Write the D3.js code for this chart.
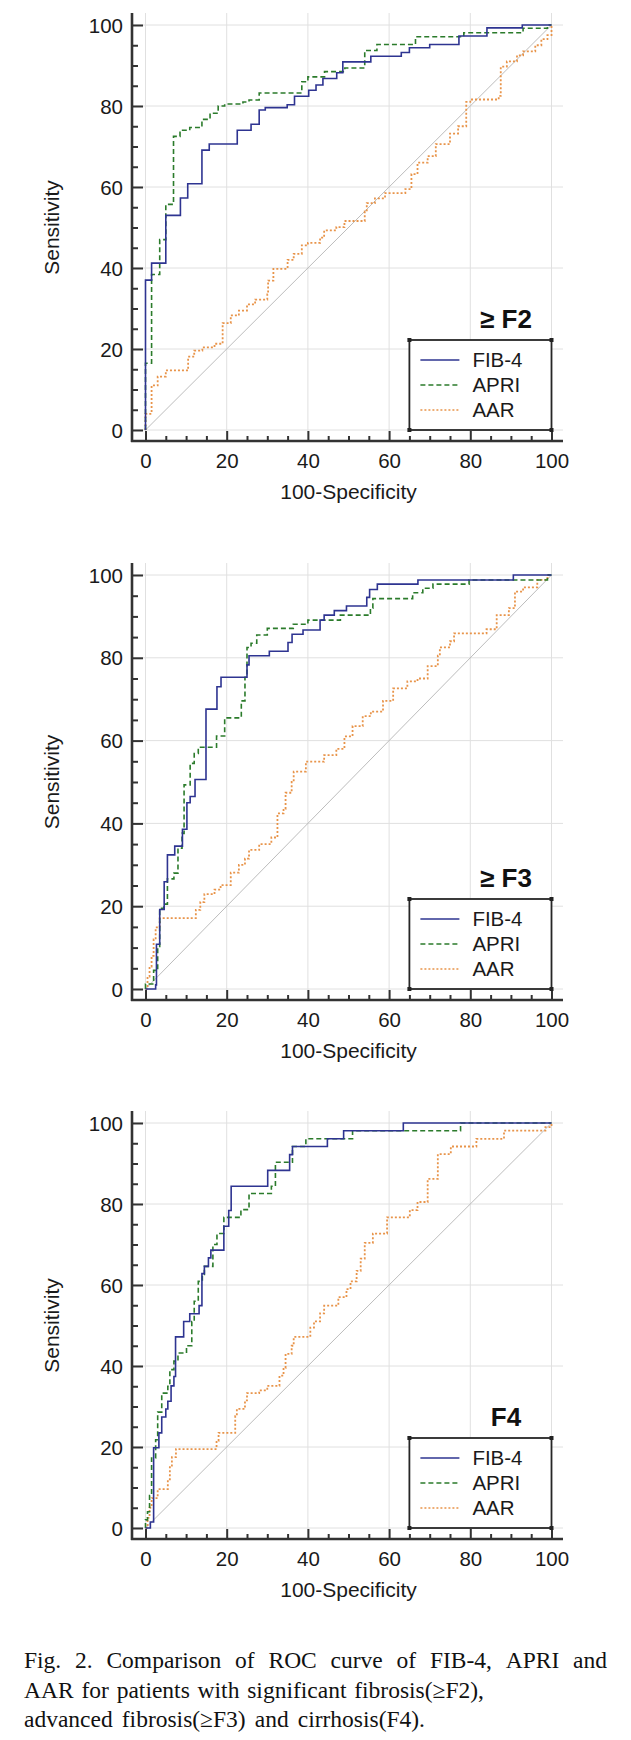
<!DOCTYPE html>
<html><head><meta charset="utf-8">
<script src="https://cdn.jsdelivr.net/npm/d3@7"></script>
<style>body{margin:0;background:#fff;} svg{display:block;}</style>
</head><body>
<svg id="c" width="631" height="1740"></svg>
<script>
// ---------- data ----------
const xTickValues = [0, 20, 40, 60, 80, 100];
const yTickValues = [0, 20, 40, 60, 80, 100];
const minorTickValues = [5, 10, 15, 25, 30, 35, 45, 50, 55, 65, 70, 75, 85, 90, 95];
const seriesNames = ["FIB-4", "APRI", "AAR"];
const panelLabels = ["≥ F2", "≥ F3", "F4"];
const xAxisTitle = "100-Specificity";
const yAxisTitle = "Sensitivity";
const referenceLine = [[0, 0], [100, 100]];
const legendExtent = [65, 100];

// Panel 1 (>= F2)
const f2Fib4 = [[0,0],[0,37],[1.5,41.2],[5,53],[8.6,57.3],[10.4,60.8],[13.9,69.1],[15.7,70.6],[22.6,74],[26,75.5],[28,79],[29.5,79.6],[34.9,80.3],[36.7,82.4],[40.2,83.9],[42,85.2],[43.7,86.8],[47.1,88.2],[48.6,90.9],[55.5,92.3],[63,93.2],[65,94.4],[70,95.2],[77.2,97.3],[84.1,99.3],[92.8,100],[100,100]];
const f2Apri = [[0,0],[0,16.5],[1.5,38.4],[3.5,47],[5,55.7],[6.9,72.5],[8.5,74],[10.9,74.7],[13.9,76.7],[15.9,78.2],[17.9,80],[19.5,80.5],[24,81],[25.5,81.5],[28,83.2],[38.5,86],[40,87.2],[44.1,88.5],[49.1,89.4],[54,93.7],[57,95.2],[66.5,97.1],[78.4,98.1],[93,99.2],[99,100],[100,100]];
const f2Aar = [[0,0],[0,4],[1.5,11],[3,13.2],[5,14.7],[10.5,18.1],[12,19.6],[14,20.4],[17,21.3],[19,26.4],[21,28.3],[23,29.5],[25,31],[27,32.2],[30,33.5],[30.2,36.9],[31.5,39.8],[35,42],[36.5,43.5],[38.5,45.6],[40,46.2],[43,47.5],[44,49.3],[47,50.1],[49,51.6],[54,54],[54.5,56],[56.5,57.2],[59,58.5],[64,59.5],[65.5,63.2],[67,66],[69.5,67.6],[71.5,70.6],[75,73.2],[77,75],[79,81],[80,81.6],[87,82.5],[87.5,89.7],[89,91],[91.5,92.5],[93,93.5],[96,95],[97.5,96.5],[99,97.5],[100,100]];

// Panel 2 (>= F3)
const f3Fib4 = [[0,0],[2,0],[2.5,1],[2.7,10.8],[3.5,19.2],[4.6,25.9],[5.4,32.4],[7.2,34.5],[9.1,38.6],[10.2,45],[11,46.5],[12.2,50.6],[14.9,67.6],[17.6,73],[18.6,75.3],[25,78.3],[25.5,80.5],[30.5,81.6],[35.1,83.7],[36.1,85.7],[38.8,86.7],[43,89.1],[44,90.3],[46.5,91.4],[49.5,92.5],[54.5,94.6],[55.2,96.5],[57.1,97.8],[67.1,98.8],[90.6,100],[100,100]];
const f3Apri = [[0,0],[0,1.2],[2,4.5],[3,10],[3.5,19.5],[4.5,20.5],[5.4,26.6],[7,28],[8,34],[9,37.6],[9.5,49.3],[11,54.5],[12,56.9],[13,58.4],[17.5,61.1],[19.5,65.5],[23.6,69.6],[24.5,75.3],[25,82.5],[26,83.5],[27.4,85.5],[30,87.1],[36.4,88.1],[40,89.1],[48,90.3],[55.4,92],[56,94.3],[65.8,95.7],[68.3,96.8],[70.8,97.8],[79.7,98.8],[99,100],[100,100]];
const f3Aar = [[0,0],[0.5,3],[1,5.4],[1.5,8],[2,12],[2.5,14.9],[3.5,17.1],[12.4,19.1],[13.5,21],[14.5,22.9],[17,24],[18.5,25.1],[21,28.1],[23,30],[24.5,31.5],[25.5,33.6],[28,35],[31,36.6],[32.5,42.4],[34,43.5],[34.5,47.4],[36,50],[36.5,52.5],[39.5,54.9],[44,56.5],[47,58],[49,61],[51,63.5],[53.5,65.9],[55.5,67],[58.5,69.6],[61,72.6],[64.5,74.3],[67,75],[69.5,78],[72,80.5],[72.5,82.5],[75,84],[76,85.9],[84,86.9],[86.5,90.3],[89.5,92],[91,96],[93,97],[96.5,98.8],[99,100],[100,100]];

// Panel 3 (F4)
const f4Fib4 = [[0,0],[1.2,0],[1.2,1.5],[2,19.8],[3.3,23.5],[4,27.4],[5,29.4],[5.5,31.3],[6.3,35.1],[7,37.4],[7.4,47.2],[9.4,51],[10.9,52.9],[13.2,54.9],[13.9,62.8],[14.5,64.6],[15.5,66.7],[16.1,68.6],[19.3,74.5],[20.5,78.4],[21.1,84.4],[30.1,88.3],[35.5,92.2],[36.2,94.2],[44.8,96.1],[48.8,98.1],[63.5,100],[100,100]];
const f4Apri = [[0,0],[0,2],[0.5,4],[1,8],[1.5,17.3],[2.5,21.8],[3,28.6],[4,33.3],[5.5,35],[6,39.1],[7,41.2],[8,43.2],[10.1,45],[11.4,51],[12,56],[13,60.9],[14,62.6],[14.5,64.6],[16.6,70],[17.6,72.7],[19.3,76.7],[23.5,78.6],[25.5,82.6],[31,84.4],[32,90.3],[36.2,94.2],[39.5,96.1],[51,98.1],[77.6,100],[100,100]];
const f4Aar = [[0,0],[0.5,2.5],[1,5],[1.5,7.4],[3,9.6],[5.5,12],[6,15.4],[6.5,17.5],[7.5,19.5],[17.5,21.5],[18,23.5],[22.1,27.6],[22.5,29.4],[24.5,31.5],[25,33.3],[28,34],[30,35.1],[33,37.6],[34,39.5],[34.5,43],[36,45],[36.5,47.2],[40.6,49.5],[41.5,51],[43,53],[44,54.9],[47.5,57],[49.5,59],[50.5,60.9],[52,63.5],[53,66.5],[54,70.4],[56,72.7],[59.5,76.7],[65.1,78.5],[67,80.5],[69.5,86.2],[72,92.3],[75.2,94.2],[81.5,96.1],[88.3,98.1],[98.5,99],[100,100]];

const captionLines = [
  "Fig. 2. Comparison of ROC curve of FIB-4, APRI and",
  "AAR for patients with significant fibrosis(≥F2),",
  "advanced fibrosis(≥F3) and cirrhosis(F4)."
];

// ---------- layout & style ----------
const svg = d3.select("#c");
const panelData = [[f2Fib4, f2Apri, f2Aar], [f3Fib4, f3Apri, f3Aar], [f4Fib4, f4Apri, f4Aar]];
const panelBox = [{top: 25, bottom: 430}, {top: 575, bottom: 989}, {top: 1123, bottom: 1528}];
const colors = ["#2e3491", "#2b7b2b", "#e8944a"];
const dashes = [null, "5,3", "2,2"];
const sans = "'Liberation Sans', Arial, sans-serif";
const x = d3.scaleLinear().domain([0, 100]).range([145.5, 551.5]);
const axisXpos = 132, rightX = 563;

panelBox.forEach((P, i) => {
  const y = d3.scaleLinear().domain([0, 100]).range([P.bottom, P.top]);
  const g = svg.append("g");
  const axisY = P.bottom + 11, topY = P.top - 12;

  // grid
  g.append("g").selectAll("line").data(xTickValues).join("line")
    .attr("x1", d => x(d)).attr("x2", d => x(d)).attr("y1", axisY).attr("y2", topY)
    .attr("stroke", "#e0e0e0").attr("stroke-width", 1);
  g.append("g").selectAll("line").data(yTickValues).join("line")
    .attr("x1", axisXpos).attr("x2", rightX).attr("y1", d => y(d)).attr("y2", d => y(d))
    .attr("stroke", "#e0e0e0").attr("stroke-width", 1);

  // reference diagonal
  g.append("path").datum(referenceLine)
    .attr("d", d3.line().x(d => x(d[0])).y(d => y(d[1])))
    .attr("fill", "none").attr("stroke", "#b4b4b4").attr("stroke-width", 0.9);

  // ROC curves (draw AAR, APRI, FIB-4)
  const line = d3.line().x(d => x(d[0])).y(d => y(d[1])).curve(d3.curveStepAfter);
  [2, 1, 0].forEach(k => {
    g.append("path").datum(panelData[i][k])
      .attr("d", line).attr("fill", "none")
      .attr("stroke", colors[k]).attr("stroke-width", k === 2 ? 1.8 : 1.6)
      .attr("stroke-dasharray", dashes[k]);
  });

  // axes
  const yAx = g.append("g").attr("transform", `translate(${axisXpos},0)`)
    .call(d3.axisLeft(y).tickValues(yTickValues).tickSizeInner(-11).tickSizeOuter(0).tickPadding(9));
  const yMin = g.append("g").attr("transform", `translate(${axisXpos},0)`)
    .call(d3.axisLeft(y).tickValues(minorTickValues).tickSizeInner(-6).tickSizeOuter(0).tickFormat(""));
  const xAx = g.append("g").attr("transform", `translate(0,${axisY})`)
    .call(d3.axisBottom(x).tickValues(xTickValues).tickSizeInner(-10).tickSizeOuter(0).tickPadding(12));
  const xMin = g.append("g").attr("transform", `translate(0,${axisY})`)
    .call(d3.axisBottom(x).tickValues(minorTickValues).tickSizeInner(-5).tickSizeOuter(0).tickFormat(""));
  [yAx, yMin, xAx, xMin].forEach(a => {
    a.select(".domain").remove();
    a.selectAll(".tick line").attr("stroke", "#333").attr("stroke-width", 2);
    a.selectAll("text").attr("font-family", sans).attr("font-size", 20.5).attr("fill", "#1a1a1a");
  });
  yAx.selectAll("text").attr("dy", "0.35em");
  // axis lines
  g.append("line").attr("x1", axisXpos).attr("x2", axisXpos).attr("y1", topY).attr("y2", axisY + 1)
    .attr("stroke", "#333").attr("stroke-width", 2.6);
  g.append("line").attr("x1", axisXpos - 1).attr("x2", rightX).attr("y1", axisY).attr("y2", axisY)
    .attr("stroke", "#333").attr("stroke-width", 2.6);

  // axis titles
  g.append("text").attr("x", (x(0) + x(100)) / 2).attr("y", P.bottom + 69)
    .attr("text-anchor", "middle").attr("font-family", sans).attr("font-size", 21)
    .attr("fill", "#1a1a1a").text(xAxisTitle);
  g.append("text").attr("transform", `translate(59,${(P.top + P.bottom) / 2}) rotate(-90)`)
    .attr("text-anchor", "middle").attr("font-family", sans).attr("font-size", 21)
    .attr("fill", "#1a1a1a").text(yAxisTitle);

  // legend
  const lx1 = x(legendExtent[0]), lx2 = x(legendExtent[1]);
  const ly2 = P.bottom, ly1 = P.bottom - 90;
  const lg = g.append("g");
  lg.append("rect").attr("x", lx1).attr("y", ly1).attr("width", lx2 - lx1).attr("height", ly2 - ly1)
    .attr("fill", "#fff").attr("stroke", "#262626").attr("stroke-width", 1.8);
  [[lx1, ly1], [lx2, ly1], [lx1, ly2], [lx2, ly2]].forEach(c => {
    lg.append("rect").attr("x", c[0] - 2).attr("y", c[1] - 2).attr("width", 4).attr("height", 4).attr("fill", "#222");
  });
  seriesNames.forEach((name, k) => {
    const ry = ly1 + 20 + k * 25;
    lg.append("line").attr("x1", lx1 + 11).attr("x2", lx1 + 50).attr("y1", ry).attr("y2", ry)
      .attr("stroke", colors[k]).attr("stroke-width", 1.6).attr("stroke-dasharray", dashes[k]);
    lg.append("text").attr("x", lx1 + 63).attr("y", ry).attr("dy", "0.35em")
      .attr("font-family", sans).attr("font-size", 20.5).attr("fill", "#1a1a1a").text(name);
  });
  g.append("text").attr("x", 506).attr("y", ly1 - 12).attr("text-anchor", "middle")
    .attr("font-family", sans).attr("font-size", 26).attr("font-weight", "bold")
    .attr("fill", "#111").text(panelLabels[i]);
});

// ---------- caption (justified words) ----------
const capStart = 24;
const capEnds = [607, 484, 425];
const capBase = [1668, 1698, 1727];
const serif = "'Liberation Serif', 'Times New Roman', serif";
captionLines.forEach((ln, i) => {
  const words = ln.split(" ");
  const texts = words.map(w => svg.append("text").attr("font-family", serif).attr("font-size", 23.5)
    .attr("fill", "#111").attr("y", capBase[i]).text(w));
  const widths = texts.map(t => t.node().getComputedTextLength());
  const total = d3.sum(widths);
  const gap = (capEnds[i] - capStart - total) / (words.length - 1);
  let cx = capStart;
  texts.forEach((t, k) => { t.attr("x", cx); cx += widths[k] + gap; });
});
</script>
</body></html>
